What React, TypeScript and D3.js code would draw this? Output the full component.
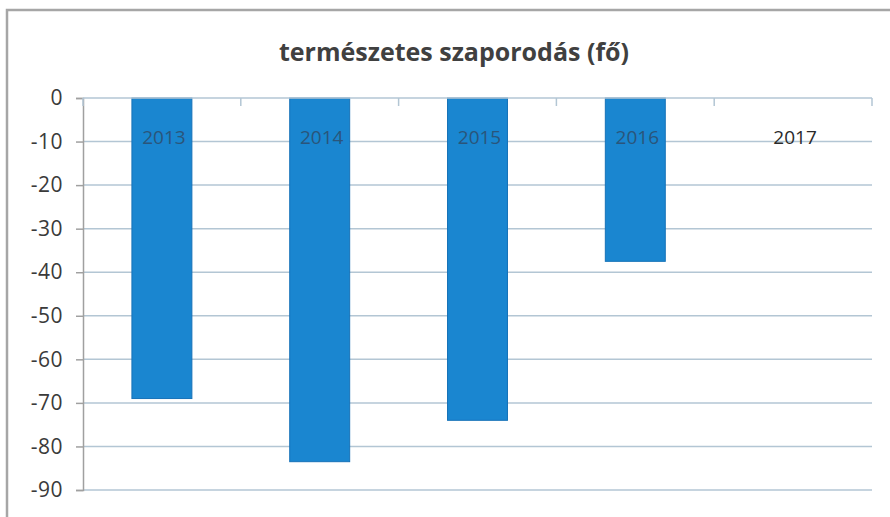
import { useEffect, useRef } from 'react';
import * as d3 from 'd3';

const years = ['2013', '2014', '2015', '2016', '2017'];
const values = [-69, -83.5, -74, -37.5, 0];
const yTicks = [0, -10, -20, -30, -40, -50, -60, -70, -80, -90];
const title = 'természetes szaporodás (fő)';

export default function App() {
  const svgRef = useRef<SVGSVGElement>(null);

  useEffect(() => {
    if (!svgRef.current) return;
    const svg = d3.select(svgRef.current);
    svg.selectAll('*').remove();

    const width = 890;
    const height = 517;
    const left = 83;
    const right = 872;
    const top = 98;
    const bottom = 490;
    const font = '"Open Sans", Lato, sans-serif';

    svg.append('rect').attr('width', width).attr('height', height).attr('fill', '#fff');

    // frame
    svg.append('path')
      .attr('d', `M7,${height} L7,10 L${width},10`)
      .attr('fill', 'none')
      .attr('stroke', '#a6a6a6')
      .attr('stroke-width', 2.5);

    const x = d3.scaleBand<string>()
      .domain(years)
      .range([left, right])
      .paddingInner(0.62)
      .paddingOuter(0.31);

    const y = d3.scaleLinear().domain([-90, 0]).range([bottom, top]);

    // gridlines
    svg.append('g')
      .selectAll('line')
      .data(yTicks.filter((d) => d !== 0))
      .enter()
      .append('line')
      .attr('x1', left)
      .attr('x2', right)
      .attr('y1', (d) => y(d))
      .attr('y2', (d) => y(d))
      .attr('stroke', '#b3c6d4')
      .attr('stroke-width', 1.5);

    // bars
    svg.append('g')
      .selectAll('rect')
      .data(years.map((yr, i) => ({ yr, v: values[i] })).filter((d) => d.v !== 0))
      .enter()
      .append('rect')
      .attr('x', (d) => x(d.yr)!)
      .attr('width', x.bandwidth())
      .attr('y', y(0))
      .attr('height', (d) => y(d.v) - y(0))
      .attr('fill', '#1a86d0')
      .attr('stroke', '#1672b8')
      .attr('stroke-width', 1);

    // y axis
    const yAxis = svg.append('g')
      .attr('transform', `translate(${left},0)`)
      .call(d3.axisLeft(y).tickValues(yTicks).tickSize(7).tickPadding(13).tickFormat((d) => String(d)));
    yAxis.select('.domain').attr('stroke', '#a0a0a0').attr('stroke-width', 1.5);
    yAxis.selectAll('.tick line').attr('stroke', '#a0a0a0').attr('stroke-width', 1.5);
    yAxis.selectAll('.tick text')
      .attr('fill', '#3a3a3a')
      .style('font-family', font)
      .style('font-size', '21px')
      .style('letter-spacing', '0.5px');

    // category axis along zero line
    svg.append('line')
      .attr('x1', left)
      .attr('x2', right)
      .attr('y1', y(0))
      .attr('y2', y(0))
      .attr('stroke', '#b3c6d4')
      .attr('stroke-width', 1.5);

    const step = x.step();
    svg.append('g')
      .selectAll('line')
      .data(d3.range(years.length + 1))
      .enter()
      .append('line')
      .attr('x1', (i) => left + i * step)
      .attr('x2', (i) => left + i * step)
      .attr('y1', y(0))
      .attr('y2', y(0) + 8)
      .attr('stroke', '#b3c6d4')
      .attr('stroke-width', 1.5);

    svg.append('g')
      .selectAll('text')
      .data(years)
      .enter()
      .append('text')
      .attr('x', (d) => x(d)! + x.bandwidth() / 2 + 2)
      .attr('y', y(-10) + 2)
      .attr('text-anchor', 'middle')
      .attr('fill', (d, i) => (values[i] !== 0 ? '#2f4a66' : '#2a2a2a'))
      .attr('opacity', (d, i) => (values[i] !== 0 ? 0.8 : 1))
      .style('font-family', font)
      .style('font-size', '19px')
      .text((d) => d);

    // title
    svg.append('text')
      .attr('x', 454)
      .attr('y', 61)
      .attr('text-anchor', 'middle')
      .attr('fill', '#404040')
      .style('font-family', font)
      .style('font-weight', 'bold')
      .style('font-size', '25px')
      .text(title);
  }, []);

  return (
    <svg
      ref={svgRef}
      width={890}
      height={517}
      style={{ position: 'absolute', left: 0, top: 0 }}
    />
  );
}
